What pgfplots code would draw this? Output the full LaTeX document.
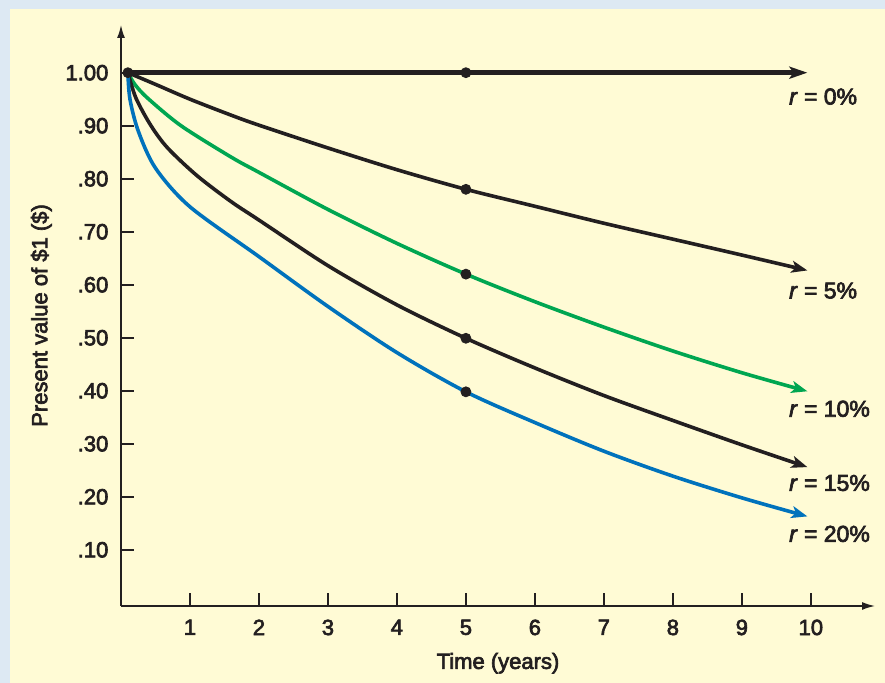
\documentclass[border=0pt]{standalone}
\usepackage{fontspec}
\setmainfont{Liberation Sans}[UprightFeatures={FakeBold=3}, ItalicFeatures={FakeBold=3}]
\usepackage{pgfplots}
\pgfplotsset{compat=1.18}
\usetikzlibrary{arrows.meta}

\definecolor{bgyellow}{RGB}{255,251,213}
\definecolor{frameblue}{RGB}{221,233,243}
\definecolor{pvgreen}{RGB}{0,166,81}
\definecolor{pvblue}{RGB}{0,114,188}
\definecolor{ink}{RGB}{35,31,32}

\begin{document}
\begin{tikzpicture}
\useasboundingbox (0,0) rectangle (442.5pt,341.5pt);
\fill[frameblue] (0,0) rectangle (442.5pt,341.5pt);
\fill[bgyellow] (5pt,0) rectangle (442.5pt,337pt);
\begin{axis}[
    at={(60.5pt,38.5pt)}, anchor=south west,
    scale only axis, width=377pt, height=290.5pt,
    xmin=0, xmax=10.93, ymin=-0.006, ymax=1.09,
    clip=false,
    axis lines=left,
    axis line style={ink, line width=0.8pt, -{Latex[length=6.5pt,width=4pt]}},
    xtick={1,2,3,4,5,6,7,8,9,10},
    xticklabels={1,2,3,4,5,6,7,8,9,10},
    ytick={0.1,0.2,0.3,0.4,0.5,0.6,0.7,0.8,0.9,1.0},
    yticklabels={.10,.20,.30,.40,.50,.60,.70,.80,.90,1.00},
    tick align=inside, major tick length=6.5pt,
    tick style={ink, line width=0.85pt},
    every tick label/.append style={font=\fontsize{11}{13}\selectfont, text=ink},
    yticklabel style={xshift=-2.8pt},
    xticklabel style={yshift=-3.3pt},
    xlabel={Time (years)},
    ylabel={Present value of \$1 (\$)},
    label style={font=\fontsize{11}{13}\selectfont, text=ink},
    xlabel style={yshift=-2pt},
    ylabel style={yshift=0pt},
  ]
  % r = 0%
  \addplot[ink, line width=2.8pt, -{Stealth[length=9pt,width=6pt,inset=2pt]}]
    coordinates {(0.1,1.000) (9.95,1.000)};
  % r = 5%
  \addplot[ink, line width=1.8pt, smooth, tension=0.5, -{Stealth[length=8pt,width=6pt,inset=2pt]}]
    coordinates {(0.1,1.000) (0.5,0.978) (1,0.950) (1.594,0.920) (2,0.901) (3,0.858)
                 (4,0.817) (5,0.780) (6,0.748) (7,0.716) (8,0.686) (9,0.656) (9.95,0.627)};
  % r = 10%
  \addplot[pvgreen, line width=1.8pt, smooth, tension=0.5, -{Stealth[length=8pt,width=6pt,inset=2pt]}]
    coordinates {(0.1,1.000) (0.2,0.978) (0.386,0.952) (0.87,0.900) (1.594,0.841) (2,0.812)
                 (3,0.742) (4,0.678) (5,0.620) (6,0.568) (7,0.520) (8,0.475) (9,0.434) (9.95,0.399)};
  % r = 15%
  \addplot[ink, line width=1.8pt, smooth, tension=0.5, -{Stealth[length=8pt,width=6pt,inset=2pt]}]
    coordinates {(0.1,1.000) (0.217,0.952) (0.435,0.900) (0.676,0.858) (1.1,0.806) (1.594,0.757)
                 (2,0.722) (3,0.636) (4,0.562) (5,0.499) (6,0.443) (7,0.391) (8,0.344) (9,0.298) (9.95,0.256)};
  % r = 20%
  \addplot[pvblue, line width=1.8pt, smooth, tension=0.5, -{Stealth[length=8pt,width=6pt,inset=2pt]}]
    coordinates {(0.1,1.000) (0.13,0.950) (0.25,0.890) (0.5,0.820) (1,0.747) (2,0.653)
                 (3,0.559) (4,0.472) (5,0.398) (6,0.340) (7,0.286) (8,0.239) (9,0.198) (9.95,0.163)};
  % dots
  \addplot[only marks, mark=*, mark size=2.5pt, ink]
    coordinates {(0.1,1.000) (5,1.000) (5,0.780) (5,0.620) (5,0.499) (5,0.398)};
  % curve labels
  \begin{scope}[every node/.style={anchor=west, inner sep=0pt, font=\fontsize{11.5}{13}\selectfont, text=ink}]
  \node at (axis cs:9.68,0.955) {\textit{r} = 0\%};
  \node at (axis cs:9.68,0.589) {\textit{r} = 5\%};
  \node at (axis cs:9.68,0.366) {\textit{r} = 10\%};
  \node at (axis cs:9.68,0.226) {\textit{r} = 15\%};
  \node at (axis cs:9.68,0.130) {\textit{r} = 20\%};
  \end{scope}
\end{axis}
\end{tikzpicture}
\end{document}
